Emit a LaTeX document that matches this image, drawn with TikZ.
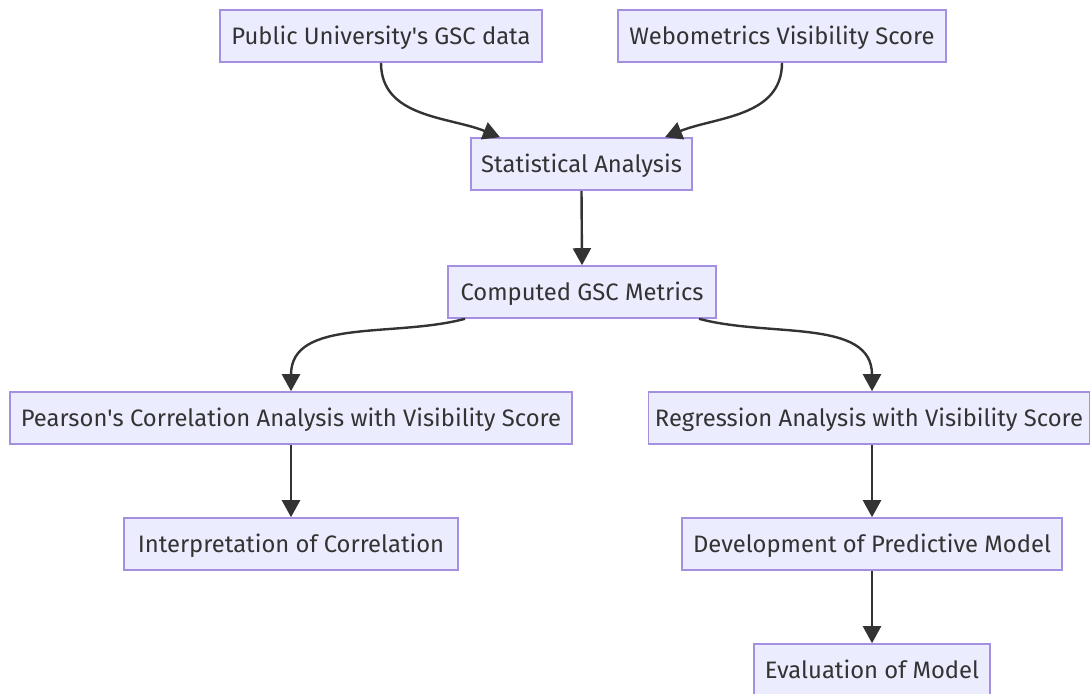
\documentclass[tikz,border=0pt]{standalone}
\usepackage{fontspec}
\setmainfont{Fira Sans}
\usetikzlibrary{arrows.meta}
\definecolor{boxfill}{HTML}{ECECFF}
\definecolor{boxline}{HTML}{A58FE0}
\definecolor{ink}{HTML}{333333}
\tikzset{
  flowbox/.style={draw=boxline, fill=boxfill, line width=1.6pt, text=ink,
    inner sep=0pt, minimum height=52pt, text depth=2pt,
    font=\fontsize{23.8}{28}\selectfont},
  link/.style={draw=ink, line width=2.4pt,
    -{Triangle[length=17pt,width=18pt]}}
}
\begin{document}
\begin{tikzpicture}[x=1pt,y=-1pt]
\useasboundingbox (0,0) rectangle (1091,693);
\clip (0,0) rectangle (1091,693);
\fill[white] (0,0) rectangle (1091,693);

\node[flowbox, minimum width=322pt] (gsc)  at (381,36)  {Public University\textquotesingle s GSC data};
\node[flowbox, minimum width=328pt] (web)  at (782,36)  {Webometrics Visibility Score};
\node[flowbox, minimum width=221pt] (stat) at (581.5,164) {Statistical Analysis};
\node[flowbox, minimum width=268pt] (comp) at (582,292) {Computed GSC Metrics};
\node[flowbox, minimum width=562pt] (pear) at (291,418) {Pearson\textquotesingle s Correlation Analysis with Visibility Score};
\node[flowbox, minimum width=441pt] (regr) at (869,418) {Regression Analysis with Visibility Score};
\node[flowbox, minimum width=334pt] (intp) at (291,544) {Interpretation of Correlation};
\node[flowbox, minimum width=380pt] (devm) at (872,544) {Development of Predictive Model};
\node[flowbox, minimum width=236pt] (eval) at (872,670) {Evaluation of Model};

\draw[link] (gsc.south) to[out=-90,in=158] ([xshift=-81.5pt]stat.north);
\draw[link] (web.south) to[out=-90,in=22] ([xshift=83.5pt]stat.north);
\draw[link] (stat.south) -- (comp.north);
\draw[link] ([xshift=-117pt]comp.south) to[out=195,in=90] (pear.north);
\draw[link] ([xshift=117pt]comp.south) to[out=-15,in=90] ([xshift=3pt]regr.north);
\draw[link] (pear.south) -- (intp.north);
\draw[link] ([xshift=3pt]regr.south) -- (devm.north);
\draw[link] (devm.south) -- (eval.north);
\end{tikzpicture}
\end{document}
